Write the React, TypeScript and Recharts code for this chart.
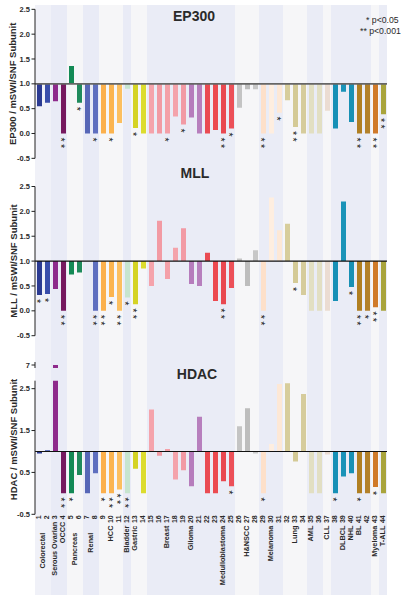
import React from 'react';
import { BarChart, Bar, XAxis, YAxis, ReferenceLine, ReferenceArea, Cell, LabelList } from 'recharts';

const sampleIds = [1, 2, 3, 4, 5, 6, 7, 8, 9, 10, 11, 12, 13, 14, 15, 16, 17, 18, 19, 20, 21, 22, 23, 24, 25, 26, 27, 28, 29, 30, 31, 32, 33, 34, 35, 36, 37, 38, 39, 40, 41, 42, 43, 44];

const ep300Values = [
  0.55, 0.62, 0.65, 0.0, 1.36, 0.62, 0.0, 0.0, 0.0, 0.0,
  0.21, 0.9, 0.11, 0.0, 0.0, 0.0, 0.0, 0.34, 0.18, 0.32,
  0.0, 0.0, 0.07, 0.0, 0.1, 0.52, 0.89, 0.89, 0.0, 0.0,
  0.42, 0.67, 0.13, 0.0, 0.0, 0.0, 0.46, 0.1, 0.84, 0.23,
  0.0, 0.0, 0.0, 0.39,
];
const mllValues = [
  0.32, 0.34, 0.44, 0.0, 0.73, 0.77, null, 0.0, 0.0, 0.28,
  0.0, 0.27, 0.13, 0.85, 0.5, 1.81, 0.64, 1.27, 1.66, 0.54,
  0.5, 1.17, 0.2, 0.13, 0.46, 1.05, 0.5, 1.22, 0.0, 2.28,
  1.62, 1.75, 0.56, 0.32, 0.0, 0.0, 0.0, 0.2, 2.2, 0.48,
  0.0, 0.0, 0.07, 0.0,
];
const hdacValues = [
  0.95, 1.03, 7.0, 0.0, 0.0, 0.44, 0.0, 0.48, 0.0, 0.0,
  0.09, 0.0, 0.59, 0.0, 2.0, 0.9, 1.06, 0.33, 0.55, 0.17,
  1.83, 0.0, 0.0, 0.29, 0.17, 1.6, 2.03, 0.95, 0.0, 1.18,
  2.61, 2.63, 0.76, 2.37, 0.0, 0.0, 0.93, 0.0, 0.4, 0.48,
  0.0, 0.0, 0.15, 0.0,
];

const ep300Sig = [
  '', '', '', '**', '', '*', '', '*', '', '*',
  '', '', '*', '', '', '', '*', '', '*', '',
  '', '', '', '**', '*', '', '', '', '**', '',
  '*', '', '**', '', '', '', '', '', '', '',
  '**', '', '**', '**',
];
const mllSig = [
  '*', '*', '', '**', '', '', '', '**', '**', '*',
  '**', '*', '**', '', '', '', '', '', '', '',
  '', '', '', '**', '', '', '', '', '**', '',
  '', '', '*', '', '', '', '', '', '', '*',
  '**', '*', '**', '',
];
const hdacSig = [
  '', '', '', '**', '*', '', '', '', '*', '**',
  '**', '**', '', '', '', '', '', '', '', '',
  '', '', '', '', '*', '', '', '', '*', '',
  '', '', '', '', '', '', '', '*', '', '',
  '*', '', '*', '',
];

const barColors = [
  '#2c3b92', '#3a4eab', '#8e2a8c', '#76195f', '#138a55', '#1f8a5c', '#5767b7', '#5f6fbf', '#fbb04c', '#fbb44f',
  '#fcbf5f', '#c7e5cf', '#d5d325', '#dcdc2e', '#f5a3ab', '#f29aa3', '#f4a0a8', '#f4a3ab', '#f29aa4', '#b67cbc',
  '#b77fbd', '#ea4b52', '#ec4a50', '#e94850', '#ec5058', '#c4c4c4', '#bdbdbd', '#c7c7c7', '#fde0ca', '#feeee0',
  '#fde8d6', '#d7cd9b', '#d4ca96', '#d6cc9c', '#e2dfc2', '#e2dfc3', '#ebdcd2', '#1690b6', '#1a93b8', '#1890b4',
  '#b07f22', '#b3812a', '#d07a2a', '#a9a43c',
];

const groupNames = ['Colorectal', 'Serous Ovarian', 'OCCC', 'Pancreas', 'Renal', 'HCC', 'Bladder', 'Gastric', 'Breast', 'Glioma', 'Medulloblastoma', 'H&NSCC', 'Melanoma', 'Lung', 'AML', 'CLL', 'DLBCL', 'NHL', 'BL', 'Myeloma', 'T-ALL'];
const groupFirst = [1, 3, 4, 5, 7, 9, 12, 13, 15, 20, 22, 26, 29, 32, 35, 37, 38, 40, 41, 43, 44];
const groupLast = [2, 3, 4, 6, 8, 11, 12, 14, 19, 21, 25, 28, 31, 34, 36, 37, 39, 40, 42, 43, 44];
const groupLabelAt = [1.5, 3, 4, 5.5, 7.5, 10, 12, 13, 17, 20, 24, 27, 30, 33, 35, 37, 39, 40, 41, 43, 44];
const stripColors = [
  '#f0f1f8', '#e9ebf6', '#e9ebf6', '#f6f6f8', '#e9ebf6', '#f6f6f8', '#e9ebf6', '#f6f6f8', '#eaecf6', '#eaecf6',
  '#eaecf6', '#f6f6f8', '#eaecf6', '#f6f6f8', '#eaecf6', '#f6f6f8', '#eaecf6', '#eaecf6', '#eaecf6', '#f6f6f8', '#eaecf6',
];

const mainTicks = [-0.5, 0, 0.5, 1, 1.5, 2, 2.5];
const hdacTicks = [-0.5, 0.5, 1.5, 2.5];
const hdacBreakTicks = [7];

const rows = sampleIds.map((id, i) => ({
  id,
  ep300: ep300Values[i],
  mll: mllValues[i],
  hdac: hdacValues[i],
  ep300Sig: ep300Sig[i],
  mllSig: mllSig[i],
  hdacSig: hdacSig[i],
}));

const W = 409;
const AXIS_W = 35;
const RIGHT = 22;
const BAND = (W - AXIS_W - RIGHT) / sampleIds.length;
const FONT = '"Liberation Sans", Arial, Helvetica, sans-serif';
const TEXT = '#2a2a2a';
const CAT_FONT = 7;
const STAR_FONT = 10.5;

// Significance stars: one text run, turned 90deg so the asterisks stack downward below the bar end.
const StarLabel = (props: any) => {
  const { value } = props;
  if (!value) return null;
  const vb = props.viewBox ?? {};
  const x = vb.x ?? props.x;
  const y = vb.y ?? props.y;
  const w = vb.width ?? props.width;
  const h = vb.height ?? props.height;
  if ([x, y, w, h].some((v) => typeof v !== 'number' || isNaN(v))) return null;
  const cx = x + w / 2;
  const bottom = Math.max(y, y + h);
  const y0 = bottom + 6 - (STAR_FONT * 0.389) / 2;
  return (
    <text
      x={cx}
      y={y0}
      dy="0.58em"
      transform={`rotate(90, ${cx}, ${y0})`}
      textAnchor="start"
      fontSize={STAR_FONT}
      letterSpacing={2.4}
      fill="#222"
      fontFamily={FONT}
    >
      {String(value)}
    </text>
  );
};

const CategoryTick = (props: any) => {
  const { x, y, payload } = props;
  const id = payload?.value;
  const numStr = String(id);
  const numW = numStr.length * CAT_FONT * 0.556;
  const cx = x + 2.5;
  const gi = groupLabelAt.findIndex((p) => Math.floor(p) === id);
  let nameEl = null;
  if (gi >= 0) {
    const frac = groupLabelAt[gi] - Math.floor(groupLabelAt[gi]);
    const nx = cx + frac * BAND;
    const ny = frac > 0 ? y + 17.5 : y + numW + 2.5;
    nameEl = (
      <text x={nx} y={ny} transform={`rotate(-90, ${nx}, ${ny})`} textAnchor="end" fontSize={CAT_FONT + 0.3} fontWeight="bold" fill={TEXT} fontFamily={FONT}>
        {groupNames[gi]}
      </text>
    );
  }
  return (
    <g>
      <text x={cx} y={y} transform={`rotate(-90, ${cx}, ${y})`} textAnchor="end" fontSize={CAT_FONT} fontWeight="bold" fill={TEXT} fontFamily={FONT}>
        {numStr}
      </text>
      {nameEl}
    </g>
  );
};

const yTickStyle = { fontSize: 7.5, fontWeight: 'bold', fill: TEXT, fontFamily: FONT };

function Panel(props: {
  top: number;
  height: number;
  plotTop: number;
  plotHeight: number;
  valueKey: 'ep300' | 'mll';
  sigKey: string;
  baseStroke: string;
  baseWidth: number;
}) {
  const { top, height, plotTop, plotHeight, valueKey, sigKey, baseStroke, baseWidth } = props;
  return (
    <div style={{ position: 'absolute', left: 0, top }}>
      <BarChart
        width={W}
        height={height}
        data={rows}
        barSize={5}
        margin={{ top: plotTop - top, right: RIGHT, bottom: height - (plotTop - top) - plotHeight, left: 0 }}
      >
        <XAxis dataKey="id" hide />
        <YAxis
          width={AXIS_W}
          type="number"
          domain={[-0.5, 2.5]}
          ticks={mainTicks}
          interval={0}
          allowDataOverflow
          tickFormatter={(v: number) => v.toFixed(1)}
          tick={yTickStyle}
          tickSize={3.5}
          tickMargin={1.5}
          axisLine={{ stroke: '#222', strokeWidth: 1 }}
          tickLine={{ stroke: '#222', strokeWidth: 1 }}
        />
        <Bar dataKey={(d: any) => (d[valueKey] == null ? null : [1, d[valueKey]])} isAnimationActive={false}>
          {rows.map((r, i) => (
            <Cell key={`c-${i}`} fill={barColors[i]} />
          ))}
          <LabelList dataKey={sigKey} content={StarLabel} />
        </Bar>
        <ReferenceLine y={1} stroke={baseStroke} strokeWidth={baseWidth} />
      </BarChart>
    </div>
  );
}

export default function App() {
  const hdacTop = 355;
  const hdacPlotTop = 380.7;
  const hdacPlotH = 133.6;
  const hdacH = 601 - hdacTop;
  return (
    <div style={{ position: 'absolute', left: 0, top: 0, width: W, height: 601, background: '#ffffff', fontFamily: FONT, overflow: 'hidden' }}>
      {/* background strips */}
      <div style={{ position: 'absolute', left: 0, top: 0 }}>
        <BarChart width={W} height={601} data={rows} margin={{ top: 5, right: RIGHT, bottom: 6, left: AXIS_W }}>
          <XAxis dataKey="id" hide />
          <YAxis hide domain={[0, 1]} />
          {groupNames.map((n, gi) => (
            <ReferenceArea
              key={n}
              x1={groupFirst[gi]}
              x2={groupLast[gi]}
              fill={stripColors[gi]}
              fillOpacity={1}
              stroke="none"
              ifOverflow="visible"
            />
          ))}
          <Bar dataKey="id" fill="transparent" isAnimationActive={false} legendType="none" />
        </BarChart>
      </div>

      <Panel top={0} height={175} plotTop={9.33} plotHeight={149} valueKey="ep300" sigKey="ep300Sig" baseStroke="#666" baseWidth={1.6} />
      <Panel top={175} height={175} plotTop={186.5} plotHeight={149.2} valueKey="mll" sigKey="mllSig" baseStroke="#111" baseWidth={1.2} />

      {/* HDAC main */}
      <div style={{ position: 'absolute', left: 0, top: hdacTop }}>
        <BarChart
          width={W}
          height={hdacH}
          data={rows}
          barSize={5}
          margin={{ top: hdacPlotTop - hdacTop, right: RIGHT, bottom: 0, left: 0 }}
        >
          <XAxis
            dataKey="id"
            interval={0}
            axisLine={false}
            tickLine={false}
            tickSize={0}
            tickMargin={1}
            height={hdacH - (hdacPlotTop - hdacTop) - hdacPlotH}
            tick={CategoryTick}
          />
          <YAxis
            width={AXIS_W}
            type="number"
            domain={[-0.5, 2.69]}
            ticks={hdacTicks}
            interval={0}
            allowDataOverflow
            tickFormatter={(v: number) => v.toFixed(1)}
            tick={yTickStyle}
            tickSize={3.5}
            tickMargin={1.5}
            axisLine={{ stroke: '#222', strokeWidth: 1 }}
            tickLine={{ stroke: '#222', strokeWidth: 1 }}
          />
          <Bar dataKey={(d: any) => (d.hdac == null ? null : [1, d.hdac])} isAnimationActive={false}>
            {rows.map((r, i) => (
              <Cell key={`h-${i}`} fill={barColors[i]} />
            ))}
            <LabelList dataKey="hdacSig" content={StarLabel} />
          </Bar>
          <ReferenceLine y={1} stroke="#111" strokeWidth={1.2} />
        </BarChart>
      </div>

      {/* HDAC broken-axis top segment */}
      <div style={{ position: 'absolute', left: 0, top: hdacTop }}>
        <BarChart width={W} height={20} data={rows} barSize={5} margin={{ top: 7, right: RIGHT, bottom: 7, left: 0 }}>
          <XAxis dataKey="id" hide />
          <YAxis
            width={AXIS_W}
            type="number"
            domain={[6.95, 7.05]}
            ticks={hdacBreakTicks}
            interval={0}
            allowDataOverflow
            tickFormatter={(v: number) => String(v)}
            tick={yTickStyle}
            tickSize={3.5}
            tickMargin={1.5}
            axisLine={{ stroke: '#222', strokeWidth: 1 }}
            tickLine={{ stroke: '#222', strokeWidth: 1 }}
          />
          <Bar dataKey={(d: any) => (d.hdac == null ? null : [1, d.hdac])} isAnimationActive={false}>
            {rows.map((r, i) => (
              <Cell key={`b-${i}`} fill={barColors[i]} />
            ))}
          </Bar>
        </BarChart>
      </div>

      {/* titles and legend */}
      <svg width={W} height={601} style={{ position: 'absolute', left: 0, top: 0, pointerEvents: 'none' }}>
        <text x={194} y={20.7} textAnchor="middle" fontSize={14} fontWeight="bold" fill={TEXT} fontFamily={FONT}>EP300</text>
        <text x={195} y={178.3} textAnchor="middle" fontSize={14} fontWeight="bold" fill={TEXT} fontFamily={FONT}>MLL</text>
        <text x={197} y={379.3} textAnchor="middle" fontSize={14} fontWeight="bold" fill={TEXT} fontFamily={FONT}>HDAC</text>
        <text x={366} y={23.3} fontSize={8.7} fill={TEXT} fontFamily={FONT}>* p&lt;0.05</text>
        <text x={360} y={34} fontSize={8.7} fill={TEXT} fontFamily={FONT}>** p&lt;0.001</text>
        <text x={16.5} y={83.8} transform="rotate(-90, 16.5, 83.8)" textAnchor="middle" fontSize={9.5} fontWeight="bold" fill={TEXT} fontFamily={FONT}>EP300 / mSWI/SNF Subunit</text>
        <text x={16.5} y={261} transform="rotate(-90, 16.5, 261)" textAnchor="middle" fontSize={9.5} fontWeight="bold" fill={TEXT} fontFamily={FONT}>MLL / mSWI/SNF Subunit</text>
        <text x={16.5} y={439.5} transform="rotate(-90, 16.5, 439.5)" textAnchor="middle" fontSize={9.5} fontWeight="bold" fill={TEXT} fontFamily={FONT}>HDAC / mSWI/SNF Subunit</text>
      </svg>
    </div>
  );
}
